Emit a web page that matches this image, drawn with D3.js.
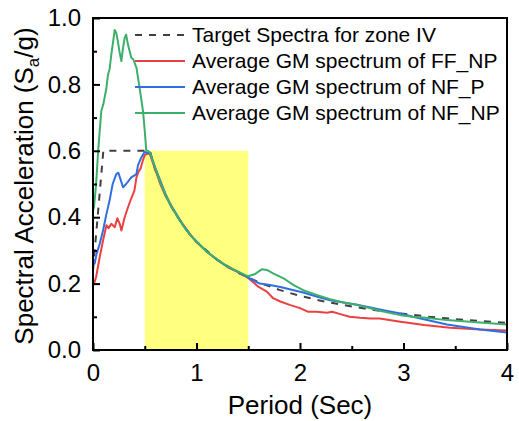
<!DOCTYPE html>
<html><head><meta charset="utf-8">
<script src="https://cdn.jsdelivr.net/npm/d3@7"></script>
<style>
html,body{margin:0;padding:0;background:#fff;}
svg{display:block;font-family:Arial,"Liberation Sans",sans-serif;}
</style></head>
<body>
<svg id="chart" width="519" height="421"></svg>
<script>
// ---- data ----
const xTicks = [0, 1, 2, 3, 4];
const xMinorTicks = [0.5, 1.5, 2.5, 3.5];
const yTicks = [0.0, 0.2, 0.4, 0.6, 0.8, 1.0];
const yMinorTicks = [0.1, 0.3, 0.5, 0.7, 0.9];
const bandPeriods = [0.5, 1.5];
const bandValue = 0.6;

const legendLabels = [
  "Target Spectra for zone IV",
  "Average GM spectrum of FF_NP",
  "Average GM spectrum of NF_P",
  "Average GM spectrum of NF_NP"
];

const targetPeriods = [0, 0.1, 0.55, 0.6, 0.7, 0.8, 0.9, 1.0, 1.2, 1.4, 1.6, 1.8, 2.0, 2.25, 2.5, 2.75, 3.0, 3.25, 3.5, 3.75, 4.0];
const targetValues  = [0.24, 0.6, 0.6, 0.544, 0.466, 0.408, 0.363, 0.326, 0.272, 0.233, 0.204, 0.181, 0.163, 0.145, 0.131, 0.119, 0.109, 0.100, 0.093, 0.087, 0.082];

const ffnpPeriods = [0, 0.01, 0.03, 0.065, 0.097, 0.13, 0.15, 0.177, 0.21, 0.235, 0.258, 0.274, 0.306, 0.338, 0.37, 0.40, 0.42, 0.44, 0.46, 0.483, 0.5, 0.53, 0.55, 0.6, 0.65, 0.7, 0.76, 0.81, 0.87, 0.94, 1.0, 1.1, 1.2, 1.3, 1.4, 1.5, 1.6, 1.68, 1.74, 1.81, 1.9, 2.0, 2.08, 2.16, 2.26, 2.31, 2.39, 2.48, 2.58, 2.68, 2.77, 2.97, 3.2, 3.45, 3.74, 4.0];
const ffnpValues  = [0.20, 0.20, 0.22, 0.28, 0.33, 0.376, 0.367, 0.38, 0.37, 0.397, 0.38, 0.36, 0.40, 0.43, 0.457, 0.48, 0.52, 0.537, 0.547, 0.572, 0.587, 0.592, 0.59, 0.545, 0.50, 0.465, 0.43, 0.405, 0.378, 0.348, 0.325, 0.296, 0.272, 0.250, 0.235, 0.217, 0.19, 0.176, 0.156, 0.146, 0.136, 0.126, 0.115, 0.115, 0.112, 0.115, 0.108, 0.10, 0.097, 0.095, 0.095, 0.085, 0.075, 0.067, 0.062, 0.059];

const nfpPeriods = [0, 0.016, 0.035, 0.065, 0.097, 0.13, 0.16, 0.19, 0.225, 0.245, 0.27, 0.29, 0.32, 0.37, 0.42, 0.435, 0.467, 0.5, 0.525, 0.55, 0.6, 0.65, 0.7, 0.76, 0.81, 0.87, 0.94, 1.0, 1.1, 1.2, 1.3, 1.4, 1.5, 1.61, 1.71, 1.81, 1.9, 2.03, 2.16, 2.29, 2.42, 2.55, 2.68, 2.77, 2.97, 3.09, 3.42, 3.74, 4.0];
const nfpValues  = [0.275, 0.26, 0.29, 0.32, 0.36, 0.41, 0.45, 0.50, 0.53, 0.534, 0.51, 0.49, 0.50, 0.52, 0.53, 0.557, 0.58, 0.597, 0.593, 0.594, 0.55, 0.51, 0.47, 0.432, 0.407, 0.376, 0.346, 0.327, 0.297, 0.271, 0.251, 0.236, 0.218, 0.20, 0.196, 0.19, 0.183, 0.173, 0.161, 0.15, 0.143, 0.136, 0.128, 0.122, 0.11, 0.10, 0.077, 0.062, 0.053];

const nfnpPeriods = [0, 0.01, 0.03, 0.05, 0.065, 0.08, 0.1, 0.13, 0.145, 0.16, 0.177, 0.195, 0.21, 0.225, 0.24, 0.255, 0.274, 0.29, 0.306, 0.32, 0.338, 0.37, 0.39, 0.42, 0.45, 0.483, 0.5, 0.515, 0.53, 0.55, 0.6, 0.65, 0.7, 0.76, 0.81, 0.87, 0.94, 1.0, 1.1, 1.2, 1.3, 1.4, 1.5, 1.56, 1.63, 1.68, 1.74, 1.84, 1.935, 2.03, 2.16, 2.29, 2.42, 2.55, 2.68, 2.77, 2.97, 3.09, 3.19, 3.42, 3.74, 4.0];
const nfnpValues  = [0.42, 0.43, 0.50, 0.60, 0.66, 0.72, 0.74, 0.79, 0.83, 0.845, 0.89, 0.93, 0.964, 0.955, 0.93, 0.90, 0.87, 0.91, 0.94, 0.95, 0.92, 0.88, 0.875, 0.85, 0.79, 0.72, 0.66, 0.60, 0.60, 0.595, 0.55, 0.505, 0.468, 0.43, 0.405, 0.375, 0.346, 0.326, 0.296, 0.272, 0.252, 0.236, 0.222, 0.228, 0.243, 0.241, 0.231, 0.216, 0.196, 0.18, 0.166, 0.153, 0.143, 0.136, 0.126, 0.118, 0.105, 0.10, 0.098, 0.09, 0.083, 0.077];

// ---- chart ----
const svg = d3.select("#chart");
const x = d3.scaleLinear().domain([0, 4]).range([93, 507]);
const y = d3.scaleLinear().domain([0, 1]).range([350, 18]);

// yellow band
svg.append("rect")
  .attr("x", x(bandPeriods[0])).attr("y", y(bandValue))
  .attr("width", x(bandPeriods[1]) - x(bandPeriods[0]))
  .attr("height", y(0) - y(bandValue))
  .attr("fill", "#ffff80");

const series = [
  {p: targetPeriods, v: targetValues, color: "#404040", dash: "7,7"},
  {p: ffnpPeriods, v: ffnpValues, color: "#ec4040", dash: null},
  {p: nfpPeriods, v: nfpValues, color: "#2f6fe0", dash: null},
  {p: nfnpPeriods, v: nfnpValues, color: "#3cb06a", dash: null}
];

const line = d3.line().x(d => x(d[0])).y(d => y(d[1]));
series.forEach(s => {
  svg.append("path")
    .datum(s.p.map((t, i) => [t, s.v[i]]))
    .attr("d", line)
    .attr("fill", "none")
    .attr("stroke", s.color)
    .attr("stroke-width", 2)
    .attr("stroke-linejoin", "round")
    .attr("stroke-dasharray", s.dash);
});

// axes
const fontTick = "24px";
const xAxis = svg.append("g").attr("transform", `translate(0,${y(0)})`)
  .call(d3.axisBottom(x).tickValues(xTicks).tickSize(-7).tickPadding(14).tickFormat(d3.format("d")));
svg.append("g").attr("transform", `translate(0,${y(0)})`)
  .call(d3.axisBottom(x).tickValues(xMinorTicks).tickSize(-4).tickFormat(""));
const yAxis = svg.append("g").attr("transform", `translate(${x(0)},0)`)
  .call(d3.axisLeft(y).tickValues(yTicks).tickSize(-7).tickPadding(12).tickFormat(d3.format(".1f")));
svg.append("g").attr("transform", `translate(${x(0)},0)`)
  .call(d3.axisLeft(y).tickValues(yMinorTicks).tickSize(-4).tickFormat(""));

svg.selectAll(".domain").remove();
svg.selectAll(".tick line").attr("stroke", "#000").attr("stroke-width", 2);
svg.selectAll(".tick text").attr("fill", "#000").style("font-size", fontTick).style("font-family", "Arial, 'Liberation Sans', sans-serif");

// frame
svg.append("rect")
  .attr("x", x(0)).attr("y", y(1))
  .attr("width", x(4) - x(0)).attr("height", y(0) - y(1))
  .attr("fill", "none").attr("stroke", "#000").attr("stroke-width", 2);

// axis titles
svg.append("text").attr("x", (x(0) + x(4)) / 2).attr("y", 414)
  .attr("text-anchor", "middle").style("font-size", "26px").text("Period (Sec)");
const yt = svg.append("text").attr("transform", `translate(33,${(y(0) + y(1)) / 2 + 2}) rotate(-90)`)
  .attr("text-anchor", "middle").style("font-size", "26px");
yt.append("tspan").text("Spectral Acceleration (S");
yt.append("tspan").attr("dy", 6).style("font-size", "17px").text("a");
yt.append("tspan").attr("dy", -6).text("/g)");

// legend
const legY0 = 35, legStep = 26;
series.forEach((s, i) => {
  const yy = legY0 + i * legStep;
  svg.append("line").attr("x1", 135).attr("x2", 185).attr("y1", yy).attr("y2", yy)
    .attr("stroke", s.color).attr("stroke-width", 2).attr("stroke-dasharray", s.dash);
  svg.append("text").attr("x", 192).attr("y", yy).attr("dy", "0.35em")
    .style("font-size", "21px").text(legendLabels[i]);
});
</script>
</body></html>
